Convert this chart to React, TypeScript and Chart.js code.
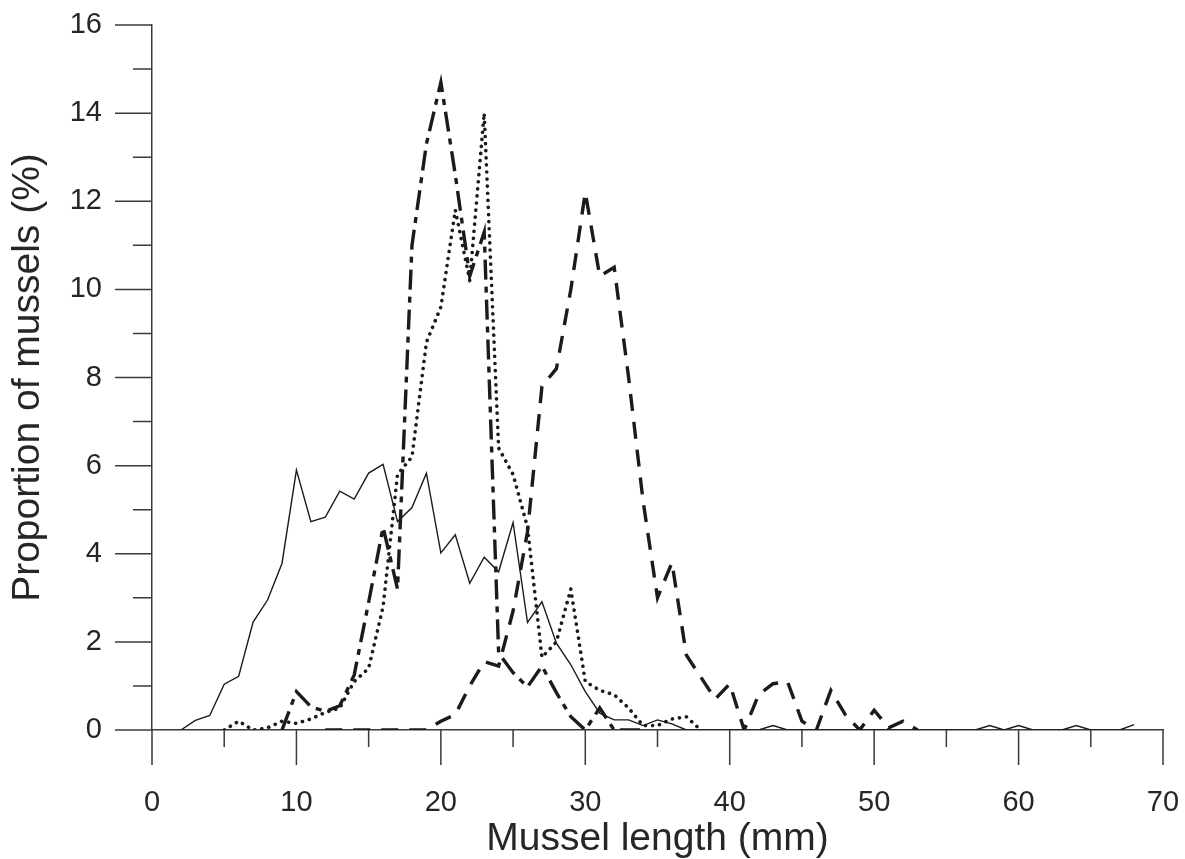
import React, { useEffect, useRef } from "react";
import { Chart, registerables } from "chart.js";

Chart.register(...registerables);

// Mussel length classes (mm)
const lengths = [
  0, 1, 2, 3, 4, 5, 6, 7, 8, 9, 10, 11, 12, 13, 14, 15, 16, 17, 18, 19, 20,
  21, 22, 23, 24, 25, 26, 27, 28, 29, 30, 31, 32, 33, 34, 35, 36, 37, 38, 39, 40,
  41, 42, 43, 44, 45, 46, 47, 48, 49, 50, 51, 52, 53, 54, 55, 56, 57, 58, 59, 60,
  61, 62, 63, 64, 65, 66, 67, 68, 69, 70,
];

// Solid thin line
const solidSeries = [
  null, null, 0, 0.22, 0.33, 1.04, 1.22, 2.45, 2.95, 3.78, 5.9,
  4.73, 4.83, 5.42, 5.24, 5.83, 6.03, 4.73, 5.05, 5.83, 4.02,
  4.43, 3.33, 3.92, 3.59, 4.71, 2.44, 2.91, 1.97, 1.48, 0.87,
  0.38, 0.23, 0.23, 0.1, 0.23, 0.14, 0, 0, 0, 0,
  0, 0, 0.1, 0, 0, 0, 0, 0, 0, 0,
  0, 0, 0, 0, 0, 0, 0, 0.1, 0, 0.1,
  0, 0, 0, 0.1, 0, 0, 0, 0.12, null, null,
];

// Long dash - short dash line (peak at 20 mm)
const dashDotSeries = [
  null, null, null, null, null, null, null, null, null, 0, 0.87,
  0.53, 0.42, 0.55, 1.25, 2.9, 4.6, 3.2, 11.0, 13.3, 14.7,
  12.6, 10.3, 11.3, 1.75, 1.3, 0.98, 1.45, 0.85, 0.3, 0,
  0.5, 0, 0, 0, null, null, null, null, null, null,
  null, null, null, null, null, null, null, null, null, null,
  null, null, null, null, null, null, null, null, null, null,
  null, null, null, null, null, null, null, null, null, null,
];

// Dotted line (peak at 23 mm)
const dottedSeries = [
  null, null, null, null, null, 0, 0.2, 0, 0.05, 0.2, 0.15,
  0.25, 0.4, 0.5, 1.1, 1.4, 2.8, 5.8, 6.2, 8.8, 9.6,
  11.8, 10.2, 14.0, 6.4, 5.8, 4.6, 1.65, 2.0, 3.2, 1.1,
  0.9, 0.8, 0.5, 0.1, 0.1, 0.25, 0.3, 0, null, null,
  null, null, null, null, null, null, null, null, null, null,
  null, null, null, null, null, null, null, null, null, null,
  null, null, null, null, null, null, null, null, null, null,
];

// Dashed line (peak at 30 mm)
const dashedSeries = [
  null, null, null, null, null, null, null, null, null, null, null,
  null, 0, 0, 0, 0, 0, 0, 0, 0, 0.2,
  0.35, 1.0, 1.55, 1.45, 2.7, 4.5, 7.8, 8.2, 10.0, 12.2,
  10.3, 10.5, 8.0, 5.2, 3.0, 3.8, 1.7, 1.2, 0.7, 1.05,
  0, 0.8, 1.05, 1.1, 0.2, 0, 0.9, 0.35, 0, 0.45,
  0.05, 0.2, 0, null, null, null, null, null, null, null,
  null, null, null, null, null, null, null, null, null, null,
];

const xMajorTicks = [0, 10, 20, 30, 40, 50, 60, 70];
const xMinorTicks = [5, 15, 25, 35, 45, 55, 65];
const yMajorTicks = [0, 2, 4, 6, 8, 10, 12, 14, 16];
const yMinorTicks = [1, 3, 5, 7, 9, 11, 13, 15];

const xTitle = "Mussel length (mm)";
const yTitle = "Proportion of mussels (%)";

const FONT = "'Liberation Sans', Arial, Helvetica, sans-serif";
const INK = "#1b1b1b";
const AXIS = "#3a3a3a";
const TEXT = "#262626";

export default function App() {
  const canvasRef = useRef<HTMLCanvasElement | null>(null);

  useEffect(() => {
    const canvas = canvasRef.current;
    if (!canvas) return;

    const toPoints = (vals: (number | null)[]) =>
      lengths
        .map((x, i) => ({ x, y: vals[i] }))
        .filter((p) => p.y !== null && p.y !== undefined) as { x: number; y: number }[];

    const tickPlugin = {
      id: "manualTicks",
      afterDraw(chart: any) {
        const { ctx, chartArea } = chart;
        const xs = chart.scales.x;
        const ys = chart.scales.y;
        ctx.save();
        ctx.strokeStyle = AXIS;
        ctx.lineWidth = 1.5;
        ctx.beginPath();
        for (const v of yMajorTicks) {
          const py = ys.getPixelForValue(v);
          ctx.moveTo(chartArea.left - 37, py);
          ctx.lineTo(chartArea.left, py);
        }
        for (const v of yMinorTicks) {
          const py = ys.getPixelForValue(v);
          ctx.moveTo(chartArea.left - 19, py);
          ctx.lineTo(chartArea.left, py);
        }
        for (const v of xMajorTicks) {
          const px = xs.getPixelForValue(v);
          ctx.moveTo(px, chartArea.bottom);
          ctx.lineTo(px, chartArea.bottom + 35);
        }
        for (const v of xMinorTicks) {
          const px = xs.getPixelForValue(v);
          ctx.moveTo(px, chartArea.bottom);
          ctx.lineTo(px, chartArea.bottom + 17);
        }
        ctx.stroke();
        ctx.restore();
      },
    };

    const chart = new Chart(canvas, {
      type: "line",
      data: {
        datasets: [
          {
            label: "solid",
            data: toPoints(solidSeries),
            borderColor: INK,
            borderWidth: 1.4,
            pointRadius: 0,
            tension: 0,
            fill: false,
          },
          {
            label: "dotted",
            data: toPoints(dottedSeries),
            borderColor: INK,
            borderWidth: 3.6,
            borderDash: [0.1, 7],
            borderCapStyle: "round",
            pointRadius: 0,
            tension: 0,
            fill: false,
          },
          {
            label: "dashdot",
            data: toPoints(dashDotSeries),
            borderColor: INK,
            borderWidth: 3.4,
            borderDash: [20, 7, 6, 7],
            borderCapStyle: "butt",
            pointRadius: 0,
            tension: 0,
            fill: false,
          },
          {
            label: "dashed",
            data: toPoints(dashedSeries),
            borderColor: INK,
            borderWidth: 3.4,
            borderDash: [17, 11],
            borderCapStyle: "butt",
            pointRadius: 0,
            tension: 0,
            fill: false,
          },
        ],
      },
      options: {
        animation: false,
        responsive: true,
        maintainAspectRatio: false,
        layout: { padding: { top: 25, right: 22, bottom: 0, left: 0 } },
        plugins: {
          legend: { display: false },
          tooltip: { enabled: false },
        },
        scales: {
          x: {
            type: "linear",
            min: 0,
            max: 70,
            afterFit: (scale: any) => {
              scale.height = 129;
              scale.paddingLeft = 0;
              scale.paddingRight = 0;
            },
            afterBuildTicks: (scale: any) => {
              scale.ticks = xMajorTicks.map((v) => ({ value: v }));
            },
            ticks: {
              autoSkip: false,
              maxRotation: 0,
              padding: 58,
              color: TEXT,
              font: { family: FONT, size: 29, lineHeight: 1 },
            },
            grid: { display: false, drawTicks: false },
            border: { display: true, color: AXIS, width: 1.5 },
            title: {
              display: true,
              text: xTitle,
              color: TEXT,
              font: { family: FONT, size: 39, lineHeight: 1 },
              padding: { top: 0, bottom: 0 },
            },
          },
          y: {
            type: "linear",
            min: 0,
            max: 16,
            afterFit: (scale: any) => {
              scale.width = 152;
              scale.paddingTop = 0;
              scale.paddingBottom = 0;
            },
            afterBuildTicks: (scale: any) => {
              scale.ticks = yMajorTicks.map((v) => ({ value: v }));
            },
            ticks: {
              autoSkip: false,
              padding: 50,
              color: TEXT,
              font: { family: FONT, size: 29, lineHeight: 1 },
            },
            grid: { display: false, drawTicks: false },
            border: { display: true, color: AXIS, width: 1.5 },
            title: {
              display: true,
              text: yTitle,
              color: TEXT,
              font: { family: FONT, size: 39, lineHeight: 1 },
              padding: { top: 9, bottom: 0 },
            },
          },
        },
      },
      plugins: [tickPlugin],
    });

    return () => chart.destroy();
  }, []);

  return (
    <div
      style={{
        position: "absolute",
        left: 0,
        top: 0,
        width: 1185,
        height: 859,
        background: "#ffffff",
      }}
    >
      <canvas ref={canvasRef} />
    </div>
  );
}
